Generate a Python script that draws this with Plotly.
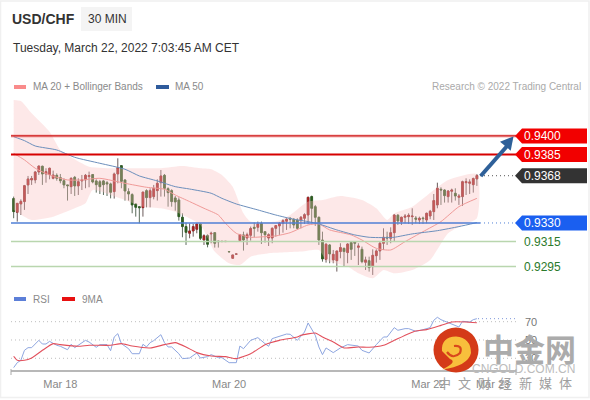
import numpy as np
import plotly.graph_objects as go

PRICE_SCALE = 100000.0
# candle values, price x 100000
opens = [93496,93386,93453,93472,93606,93646,93646,93710,93756,93694,93689,93659,93683,93665,93640,93606,93592,93667,93598,93638,93646,93673,93689,93638,93632,93638,93624,93614,93552,93694,93761,93646,93552,93528,93453,93431,93423,93560,93504,93512,93560,93624,93683,93576,93560,93501,93485,93346,93271,93217,93236,93249,93292,93163,93198,93212,93222,93155,93150,93150,93070,93016,93049,93158,93204,93179,93201,93265,93265,93295,93230,93179,93179,93257,93276,93297,93314,93338,93330,93324,93319,93338,93364,93512,93431,93346,93163,93008,93123,93003,92997,93070,93096,93062,93142,93150,93104,93088,92984,92997,92949,93037,93075,93137,93185,93177,93222,93362,93311,93346,93351,93351,93340,93324,93340,93324,93356,93391,93445,93571,93565,93512,93555,93539,93506,93512,93624,93619,93608,93654]
closes = [93391,93458,93474,93600,93654,93657,93710,93758,93694,93713,93740,93686,93659,93640,93606,93600,93659,93598,93632,93646,93683,93681,93630,93608,93592,93608,93614,93547,93694,93745,93635,93557,93533,93445,93426,93423,93549,93504,93560,93579,93619,93678,93579,93544,93472,93469,93351,93271,93225,93236,93271,93292,93177,93198,93129,93217,93137,93150,93152,93152,93068,93043,93051,93206,93163,93206,93255,93257,93292,93222,93206,93206,93257,93279,93297,93319,93330,93330,93284,93257,93346,93367,93506,93418,93346,93163,93011,93129,93051,93048,93075,93102,93070,93131,93088,93137,93115,92989,93003,92941,93040,93075,93137,93185,93179,93222,93364,93316,93346,93356,93362,93356,93330,93338,93335,93378,93394,93480,93579,93565,93520,93557,93565,93517,93517,93632,93632,93630,93657,93681]
highs = [93512,93458,93490,93606,93678,93678,93718,93761,93761,93740,93745,93721,93699,93694,93659,93606,93667,93678,93659,93686,93694,93713,93694,93651,93646,93646,93638,93624,93705,93820,93766,93651,93579,93539,93453,93431,93549,93571,93579,93606,93651,93726,93694,93587,93571,93517,93506,93378,93303,93297,93292,93297,93297,93209,93209,93230,93222,93155,93152,93152,93070,93043,93051,93212,93230,93222,93271,93303,93311,93311,93230,93217,93265,93284,93308,93330,93338,93346,93338,93338,93356,93378,93512,93520,93445,93351,93230,93137,93131,93083,93075,93137,93102,93137,93150,93150,93137,93110,93029,93029,93088,93088,93150,93257,93230,93265,93372,93372,93351,93372,93378,93418,93356,93351,93351,93383,93405,93533,93624,93587,93571,93565,93576,93579,93533,93640,93659,93651,93665,93694]
lows = [93338,93311,93364,93405,93533,93606,93619,93686,93606,93624,93651,93651,93640,93619,93579,93480,93533,93517,93525,93565,93579,93587,93619,93544,93533,93525,93517,93498,93496,93619,93579,93480,93480,93378,93351,93297,93351,93426,93426,93490,93480,93512,93512,93431,93431,93399,93319,93185,93123,93177,93190,93217,93163,93123,93104,93137,93102,93102,93148,93148,93068,93016,93049,93150,93078,93123,93158,93185,93230,93131,93142,93115,93137,93190,93204,93222,93244,93257,93257,93249,93257,93292,93292,93297,93276,93123,92989,92981,92976,92976,92909,93016,92954,92976,93003,93035,92962,92976,92922,92909,92882,92981,93003,93083,93123,93137,93150,93284,93284,93297,93292,93284,93297,93292,93292,93297,93330,93324,93418,93445,93464,93464,93464,93480,93445,93437,93525,93533,93544,93598]

ma50_idx = [0,3,6,12,17,24,31,35,40,45,49,55,58,62,68,73,78,82,85,90,95,99,104,106,111,118,124,129]
ma50_val = [93994,93962,93919,93887,93828,93780,93732,93678,93638,93592,93573,93539,93498,93453,93405,93364,93330,93311,93292,93244,93204,93185,93182,93185,93212,93238,93271,93303]
ma20_idx = [0,3,6,10,15,19,24,31,37,42,45,49,53,57,59,62,66,70,73,77,82,85,88,94,97,101,105,109,114,119,124,129]
ma20_val = [93860,93807,93740,93686,93646,93646,93659,93619,93587,93571,93525,93472,93418,93364,93297,93217,93185,93190,93196,93222,93284,93292,93244,93204,93163,93096,93083,93150,93230,93311,93431,93498]
upper_idx = [0,2,5,10,13,16,21,29,35,41,47,52,55,58,61,64,66,73,77,82,86,91,97,101,104,106,111,117,121,129]
upper_val = [94289,94281,94182,94034,93887,93828,93753,93740,93740,93740,93758,93740,93732,93686,93592,93378,93311,93311,93364,93472,93485,93517,93485,93418,93324,93378,93431,93565,93646,93694]
lower_idx = [0,3,5,11,17,20,22,27,31,36,41,45,52,56,60,63,66,71,80,85,87,93,96,100,103,106,111,116,121,125,129]
lower_val = [93405,93351,93324,93351,93418,93458,93565,93525,93485,93431,93418,93391,93284,93070,92976,92962,93029,93056,93070,93083,93003,92949,92895,92855,92922,92895,92922,93003,93217,93284,93338]

rsi_idx = [0,1,2,3,4,5,7,8,9,10,12,13,15,16,17,18,20,21,23,24,26,27,28,29,30,32,33,35,36,37,38,39,41,42,43,44,46,47,49,51,52,54,55,57,58,60,62,63,64,66,68,70,71,72,74,76,77,79,81,82,84,85,86,87,89,91,93,95,96,97,99,101,103,104,106,107,109,110,112,114,116,117,118,119,121,122,124,125,127,128,129]
rsi_val = [19.8,25.2,27.8,38.7,41.6,41.6,49.6,45.6,45.6,48.5,44.2,43.1,39.4,45.3,41.6,44.2,49.6,47.8,42,44.9,44.9,38.3,53.3,56.9,46,40.5,35,35,45.3,42.4,47.1,49.3,55.8,47.1,42.4,42.4,35,29.6,30.3,35.8,30.3,31.8,34,30.7,30.7,25.2,25.2,43.4,40.5,49.6,52.6,46,43.1,51.5,54,56.5,56.2,49.6,58.7,68.6,55.1,42.4,34,41.3,36.2,41.3,44.9,43.4,43.4,38.7,35.8,44.9,53.3,53.3,63.5,60.6,62.4,62.4,59.5,61.3,63.5,71.5,74.8,72.2,68.9,67.9,64.2,70.4,69.7,72.2,73.3]
ma9_idx = [0,1,3,5,8,11,13,18,21,27,30,33,38,42,45,48,51,55,59,62,66,70,74,79,80,84,86,89,92,96,99,103,106,110,112,115,119,122,126,129]
ma9_val = [32.2,27.8,27.8,30.3,38.7,46,44.9,43.1,44.2,44.2,46,43.4,41.3,44.9,47.1,42.4,36.2,32.5,31.8,29.6,35,44.9,49.6,53.3,55.1,57.6,53.3,47.8,41.3,42.4,42,44.2,49.6,56.9,59.8,61.3,66,69.7,69.7,68.9]

resistance_levels = [0.9400, 0.9385]
last_price = 0.9368
pivot_level = 0.9330
support_levels = [0.9315, 0.9295]
rsi_levels = [70, 50, 30]
tick_idx = [13, 60, 115.5, 133.5]
tick_text = ["Mar 18", "Mar 20", "Mar 22", "Mar 23"]
slogan = ["中", "文", "财", "经", "新", "媒", "体"]

W, H = 590, 400
X = lambda px: px / W
Y = lambda py: 1 - py / H
scale = lambda a: np.array(a) / PRICE_SCALE
o, c, hi, lo = map(scale, (opens, closes, highs, lows))
candle_x = list(range(len(opens)))

FONT = "Liberation Sans"
fig = go.Figure()

fig.add_trace(go.Scatter(
    x=upper_idx + lower_idx[::-1], y=list(scale(upper_val)) + list(scale(lower_val))[::-1],
    mode="lines", line=dict(width=0, shape="spline", smoothing=0.6), fill="toself",
    fillcolor="rgba(250,190,190,0.36)", hoverinfo="skip", xaxis="x", yaxis="y"))
fig.add_trace(go.Scatter(x=ma20_idx, y=scale(ma20_val), mode="lines",
    line=dict(color="#f09a98", width=1, shape="spline", smoothing=0.6), hoverinfo="skip"))
fig.add_trace(go.Scatter(x=ma50_idx, y=scale(ma50_val), mode="lines",
    line=dict(color="#6c8fbc", width=1, shape="spline", smoothing=0.6), hoverinfo="skip"))

fig.add_trace(go.Candlestick(x=candle_x, open=o, high=hi, low=lo, close=c,
    increasing=dict(line=dict(color="#6a5a5a", width=1), fillcolor="#a82020"),
    decreasing=dict(line=dict(color="#5a6a5a", width=1), fillcolor="#2d5f1e"),
    hoverinfo="skip"))
fig.add_trace(go.Candlestick(x=candle_x, open=o, close=c,
    high=np.maximum(o, c), low=np.minimum(o, c),
    increasing=dict(line=dict(color="#a82020", width=0.5), fillcolor="#a82020"),
    decreasing=dict(line=dict(color="#2d5f1e", width=0.5), fillcolor="#2d5f1e"),
    hoverinfo="skip"))

fig.add_trace(go.Scatter(x=rsi_idx, y=rsi_val, mode="lines", xaxis="x2", yaxis="y2",
    line=dict(color="#8ea6e0", width=1), hoverinfo="skip"))
fig.add_trace(go.Scatter(x=ma9_idx, y=ma9_val, mode="lines", xaxis="x2", yaxis="y2",
    line=dict(color="#e2505c", width=1.1, shape="spline", smoothing=0.5), hoverinfo="skip"))

shapes, ann = [], []
DOTS = "1px,3px"

def hline_price(level, color, width, x0=11, x1=516, dash="solid", layer="above"):
    shapes.append(dict(type="line", xref="paper", yref="y", x0=X(x0), x1=X(x1), y0=level, y1=level,
                       line=dict(color=color, width=width, dash=dash), layer=layer))

def px_rect(x0, y0, x1, y1, color, line=None, layer="below"):
    shapes.append(dict(type="rect", xref="paper", yref="paper", x0=X(x0), x1=X(x1), y0=Y(y0), y1=Y(y1),
                       fillcolor=color, line=dict(width=0 if line is None else 1, color=line or color), layer=layer))

def px_path(points, color=None, stroke=None, width=0, close=True):
    d = "M" + " L".join(f"{X(a):.5f},{Y(b):.5f}" for a, b in points) + (" Z" if close else "")
    shapes.append(dict(type="path", xref="paper", yref="paper", path=d, fillcolor=color,
                       line=dict(color=stroke or "rgba(0,0,0,0)", width=width), layer="above"))

def tag(level, color):
    shapes.append(dict(type="path", xref="paper", yref="y", xsizemode="pixel", ysizemode="pixel",
                       xanchor=X(515), yanchor=level,
                       path="M0,0 L7,7.5 L72,7.5 L72,-7.5 L7,-7.5 Z", fillcolor=color, line=dict(width=0), layer="above"))
    ann.append(dict(xref="paper", yref="y", x=X(521.5), y=level, text=f"{level:.4f}", showarrow=False, xanchor="left",
                    yanchor="middle", font=dict(family=FONT, size=12, color="white")))

def text(px, py, s, size, color, anchor="left", bold=False, family=FONT):
    ann.append(dict(xref="paper", yref="paper", x=X(px), y=Y(py), text=f"<b>{s}</b>" if bold else s, showarrow=False,
                    xanchor=anchor, yanchor="middle", font=dict(family=family, size=size, color=color)))

shapes.append(dict(type="rect", xref="paper", yref="paper", x0=X(0.5), x1=X(589), y0=Y(1), y1=Y(397.5),
                   line=dict(color="#f0f0f0", width=1.5), layer="below"))
px_rect(81, 7, 132, 31, "#f4f4f4")
text(9.5, 19.5, "USD/CHF", 14, "#333333", bold=True)
text(86, 19, "30 MIN", 12, "#333333")
text(11, 48.5, "Tuesday, March 22, 2022 7:03:45 AM CET", 12, "#333333")
px_rect(14, 85, 26, 89, "#f98b8b")
text(31, 86.5, "MA 20 + Bollinger Bands", 10, "#8a8a8a")
px_rect(156, 85, 169, 89, "#2f5b9c")
text(173, 86.5, "MA 50", 10, "#8a8a8a")
text(583, 86.5, "Research © 2022 Trading Central", 10, "#aaaaaa", anchor="right")
px_rect(14, 297, 26, 301, "#5c7fd8")
text(31, 299, "RSI", 10, "#8a8a8a")
px_rect(62, 297, 75, 301, "#e81010")
text(80, 299, "9MA", 10, "#8a8a8a")

hline_price(resistance_levels[0], "rgba(240,130,130,0.4)", 3.5)
hline_price(resistance_levels[0], "#cc1010", 1.4)
hline_price(resistance_levels[1], "#d60000", 2)
for lv in resistance_levels:
    tag(lv, "#f20000")
hline_price(pivot_level, "#4f7fd6", 1.4, x1=480)
hline_price(pivot_level, "#4f7fd6", 1, x0=480, dash=DOTS)
tag(pivot_level, "#1a5ff0")
hline_price(last_price, "#555555", 1, x0=480, dash=DOTS)
tag(last_price, "#333333")
for lv in support_levels:
    hline_price(lv, "#b9d6ae", 1.5)
    ann.append(dict(xref="paper", yref="y", x=X(521.5), y=lv, text=f"{lv:.4f}", showarrow=False, xanchor="left",
                    yanchor="middle", font=dict(family=FONT, size=12, color="#2b7a2b")))

for lv in rsi_levels:
    shapes.append(dict(type="line", xref="paper", yref="y2", x0=X(11), x1=X(516), y0=lv, y1=lv,
                       line=dict(color="#bdbdbd", width=1, dash=DOTS), layer="below"))
    ann.append(dict(xref="paper", yref="y2", x=X(523), y=lv, text=str(lv), showarrow=False, xanchor="left",
                    yanchor="middle", font=dict(family=FONT, size=11, color="#777777")))
shapes.append(dict(type="line", xref="paper", yref="y2", x0=X(478), x1=X(516), y0=rsi_val[-1], y1=rsi_val[-1],
                   line=dict(color="#7f98dc", width=1, dash=DOTS)))
for tx in (11, 516):
    shapes.append(dict(type="line", xref="paper", yref="paper", x0=X(tx), x1=X(tx), y0=Y(369), y1=Y(375),
                       line=dict(color="#aaaaaa", width=1)))

px_path([(480.7, 176), (508, 145)], stroke="#2e6099", width=4, close=False)
px_path([(513.5, 136.5), (500, 141.7), (510.7, 150.7)], color="#2e6099")

# watermark
shapes.append(dict(type="circle", xref="paper", yref="paper", x0=X(433.5), x1=X(478.5), y0=Y(327.5), y1=Y(372.5),
                   fillcolor="#d43a18", line=dict(width=0), layer="above"))
blob = ("M{a},{b} Q{c},{d} {e},{f} Q{g},{h} {i},{j} Q{k},{l} {m},{n} Q{o},{p} {q},{r} Z").format(
    a=X(442), b=Y(351), c=X(441), d=Y(337), e=X(456), f=Y(336.5), g=X(471), h=Y(338), i=X(471), j=Y(353),
    k=X(468), l=Y(366), m=X(442), n=Y(369.5), o=X(458), p=Y(362), q=X(450), r=Y(359))
shapes.append(dict(type="path", xref="paper", yref="paper", layer="above", path=blob, fillcolor="#f8bf3c", line=dict(width=0)))
swirl = ("M{a},{b} Q{c},{d} {e},{f} Q{g},{h} {i},{j}").format(
    a=X(447), b=Y(352), c=X(453), d=Y(360), e=X(460), f=Y(353), g=X(463), h=Y(345), i=X(454), j=Y(346))
shapes.append(dict(type="path", xref="paper", yref="paper", layer="above", path=swirl, fillcolor="rgba(0,0,0,0)",
                   line=dict(color="#d9481c", width=2.2)))
WM = "Noto Sans CJK SC"
text(529, 347, "中金网", 31, "#ababab", anchor="center", bold=True, family=WM)
text(523, 368.5, "CNGOLD.COM.CN", 12, "#bcbcbc", anchor="center")
for n, ch in enumerate(slogan):
    text(444.5 + n * 20.2, 382, ch, 13, "#a0a0a0", anchor="center", family=WM)

fig.update_layout(
    width=W, height=H, margin=dict(l=0, r=0, t=0, b=0), paper_bgcolor="white", plot_bgcolor="rgba(0,0,0,0)",
    showlegend=False, shapes=shapes, annotations=ann, hovermode=False,
    xaxis=dict(domain=[X(11), X(516)], range=[-0.744, 139.9], visible=False, rangeslider=dict(visible=False), anchor="y"),
    yaxis=dict(domain=[Y(290), Y(95)], range=[0.92761, 0.94329], visible=False, anchor="x"),
    xaxis2=dict(domain=[X(11), X(516)], range=[-0.744, 139.9], anchor="y2", showgrid=False, zeroline=False, showline=True,
                linecolor="#b8b8b8", linewidth=2, tickmode="array", tickvals=tick_idx, ticktext=tick_text,
                ticks="outside", ticklen=3, tickcolor="rgba(0,0,0,0)", tickfont=dict(family=FONT, size=11, color="#888888")),
    yaxis2=dict(domain=[Y(370), Y(300)], range=[17.2, 93.7], visible=False, anchor="x2"),
)
fig.write_html("out.html", config=dict(displayModeBar=False), post_script="document.body.style.margin='0';")
